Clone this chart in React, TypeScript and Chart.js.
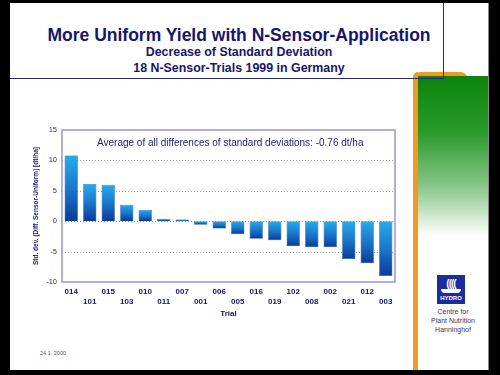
import React, { useEffect, useRef } from "react";
import { Chart, registerables } from "chart.js";

Chart.register(...registerables);

const trials = ["014", "101", "015", "103", "010", "011", "007", "001", "006", "005", "016", "019", "102", "008", "002", "021", "012", "003"];
const stdDevDiff = [10.8, 6.1, 6.0, 2.7, 1.85, 0.4, 0.3, -0.6, -1.2, -2.15, -2.9, -3.15, -4.1, -4.3, -4.3, -6.2, -6.9, -9.0];
const yMin = -10;
const yMax = 15;
const yStep = 5;

const titleText = "More Uniform Yield with N-Sensor-Application";
const subtitle1 = "Decrease of Standard Deviation";
const subtitle2 = "18 N-Sensor-Trials 1999 in Germany";
const annotation = "Average of all differences of standard deviations: -0.76 dt/ha";
const yTitle = "Std. dev. (Diff. Sensor-Uniform) [dt/ha]";
const xTitle = "Trial";
const dateText = "24.1. 2000";
const logoLines = ["Centre for", "Plant Nutrition", "Hanninghof"];

const NAVY = "#16166e";
const FONT = "'Liberation Sans', Arial, Helvetica, sans-serif";

const framePlugin = {
  id: "frame",
  beforeDatasetsDraw(chart: any) {
    const { ctx, chartArea, scales } = chart;
    const y = scales.y;
    ctx.save();
    ctx.strokeStyle = "#9a9aa6";
    ctx.lineWidth = 1;
    ctx.setLineDash([1, 2]);
    y.ticks.forEach((t: any) => {
      if (t.value <= yMin || t.value >= yMax) return;
      const py = Math.round(y.getPixelForValue(t.value)) + 0.5;
      ctx.beginPath();
      ctx.moveTo(chartArea.left, py);
      ctx.lineTo(chartArea.right, py);
      ctx.stroke();
    });
    ctx.restore();
  },
  afterDatasetsDraw(chart: any) {
    const { ctx, chartArea } = chart;
    ctx.save();
    ctx.strokeStyle = "#9898cc";
    ctx.lineWidth = 1.5;
    ctx.strokeRect(chartArea.left, chartArea.top, chartArea.right - chartArea.left, chartArea.bottom - chartArea.top);
    ctx.restore();
  },
};

function barGradient(context: any) {
  const chart = context.chart;
  const { ctx, chartArea, scales } = chart;
  if (!chartArea || !scales || !scales.y || context.type !== "data") return "#1a6cc4";
  const v = context.raw as number;
  const y0 = scales.y.getPixelForValue(0);
  const y1 = scales.y.getPixelForValue(v);
  const top = Math.min(y0, y1);
  const bottom = Math.max(y0, y1);
  if (!isFinite(top) || !isFinite(bottom) || bottom - top < 0.5) return "#1a6cc4";
  const g = ctx.createLinearGradient(0, top, 0, bottom);
  g.addColorStop(0, "#27aaea");
  g.addColorStop(0.5, "#1a78cc");
  g.addColorStop(1, "#0a3a98");
  return g;
}

function ChartBox() {
  const ref = useRef<HTMLCanvasElement | null>(null);
  useEffect(() => {
    if (!ref.current) return;
    const chart = new Chart(ref.current, {
      type: "bar",
      data: {
        labels: trials,
        datasets: [
          {
            data: stdDevDiff,
            backgroundColor: barGradient as any,
            borderColor: "#0e4a9e",
            borderWidth: 0.5,
            barPercentage: 0.72,
            categoryPercentage: 1,
          },
        ],
      },
      options: {
        animation: false,
        responsive: false,
        maintainAspectRatio: false,
        devicePixelRatio: 1,
        layout: { padding: { left: 0, right: 15, top: 10, bottom: 0 } },
        plugins: { legend: { display: false }, tooltip: { enabled: false }, title: { display: false } },
        scales: {
          x: {
            grid: { display: false, drawTicks: false },
            border: { display: false },
            ticks: {
              autoSkip: false,
              maxRotation: 0,
              minRotation: 0,
              padding: 5,
              color: NAVY,
              font: { family: FONT, size: 8, weight: "bold", lineHeight: 1.25 },
              callback: (_v: any, i: number) => (i % 2 === 0 ? [trials[i]] : ["", trials[i]]),
            },
            title: {
              display: true,
              text: xTitle,
              color: NAVY,
              font: { family: FONT, size: 8, weight: "bold" },
              padding: { top: 0, bottom: 11 },
            },
            afterFit: (scale: any) => {
              scale.height = 48;
            },
          },
          y: {
            min: yMin,
            max: yMax,
            grid: { display: false, drawTicks: false },
            border: { display: false },
            ticks: {
              stepSize: yStep,
              padding: 5,
              color: "#2a2a80",
              font: { family: FONT, size: 7.5 },
            },
            title: {
              display: true,
              text: yTitle,
              color: NAVY,
              font: { family: FONT, size: 6.5, weight: "bold" },
              padding: { top: 22, bottom: 0 },
            },
            afterFit: (scale: any) => {
              scale.width = 52;
            },
          },
        },
      },
      plugins: [framePlugin],
    });
    return () => chart.destroy();
  }, []);
  return (
    <canvas
      ref={ref}
      width={400}
      height={210}
      style={{ position: "absolute", left: 10, top: 120, width: 400, height: 210 }}
    />
  );
}

export default function App() {
  useEffect(() => {
    document.body.style.margin = "0";
  }, []);
  const abs = (s: React.CSSProperties): React.CSSProperties => ({ position: "absolute", ...s });
  return (
    <div style={{ position: "relative", width: 500, height: 375, background: "#000", overflow: "hidden", fontFamily: FONT }}>
      <div style={abs({ left: 10, top: 3, width: 478, height: 367, background: "#fff" })} />
      <div style={abs({ left: 488, top: 3, width: 1, height: 367, background: "#888" })} />
      {/* orange frame */}
      <div style={abs({ left: 413, top: 72, width: 55, height: 10, background: "#f29a20", borderRadius: "8px 8px 0 0" })} />
      <div style={abs({ left: 413, top: 72, width: 5, height: 298, background: "#f29a20", borderRadius: "8px 0 0 0" })} />
      {/* green gradient */}
      <div
        style={abs({
          left: 418,
          top: 76,
          width: 70,
          height: 160,
          background: "linear-gradient(to bottom, #0b840b 0%, #2a9a2a 35%, #8cc88c 70%, #ffffff 100%)",
        })}
      />
      {/* title frame lines */}
      <div style={abs({ left: 10, top: 78, width: 434, height: 1, background: "#2a2a7a" })} />
      <div style={abs({ left: 443, top: 3, width: 1, height: 76, background: "#2a2a7a" })} />
      {/* titles */}
      <div style={abs({ left: 19, top: 24, width: 440, textAlign: "center", fontSize: 17.5, fontWeight: "bold", color: NAVY, lineHeight: "22px", whiteSpace: "nowrap" })}>
        {titleText}
      </div>
      <div style={abs({ left: 39, top: 45, width: 400, textAlign: "center", fontSize: 12.4, fontWeight: "bold", color: NAVY, lineHeight: "15px", whiteSpace: "nowrap" })}>
        {subtitle1}
      </div>
      <div style={abs({ left: 39, top: 61, width: 400, textAlign: "center", fontSize: 12.4, fontWeight: "bold", color: NAVY, lineHeight: "15px", whiteSpace: "nowrap" })}>
        {subtitle2}
      </div>
      <ChartBox />
      <div style={abs({ left: 97, top: 137, fontSize: 10, color: "#22227a", lineHeight: "12px", whiteSpace: "nowrap" })}>{annotation}</div>
      {/* date */}
      <div style={abs({ left: 40, top: 350, fontSize: 5.5, color: "#555", lineHeight: "7px", whiteSpace: "nowrap" })}>{dateText}</div>
      {/* logo */}
      <div
        style={abs({
          left: 437,
          top: 275,
          width: 28,
          height: 29,
          background: "#1c2c9c",
          color: "#fff",
          textAlign: "center",
          fontWeight: "bold",
        })}
      >
        <div style={{ fontSize: 10, lineHeight: "11px", marginTop: 3, letterSpacing: -1 }}>((((</div>
        <div style={{ margin: "0 4px", height: 4, background: "#fff", borderRadius: "0 0 4px 4px" }} />
        <div style={{ fontSize: 6, lineHeight: "8px", marginTop: 1 }}>HYDRO</div>
      </div>
      {logoLines.map((t, i) => (
        <div
          key={t}
          style={abs({ left: 421, top: 307 + i * 9, width: 64, textAlign: "center", fontSize: 7, color: "#3a3a5a", lineHeight: "9px", whiteSpace: "nowrap" })}
        >
          {t}
        </div>
      ))}
    </div>
  );
}
